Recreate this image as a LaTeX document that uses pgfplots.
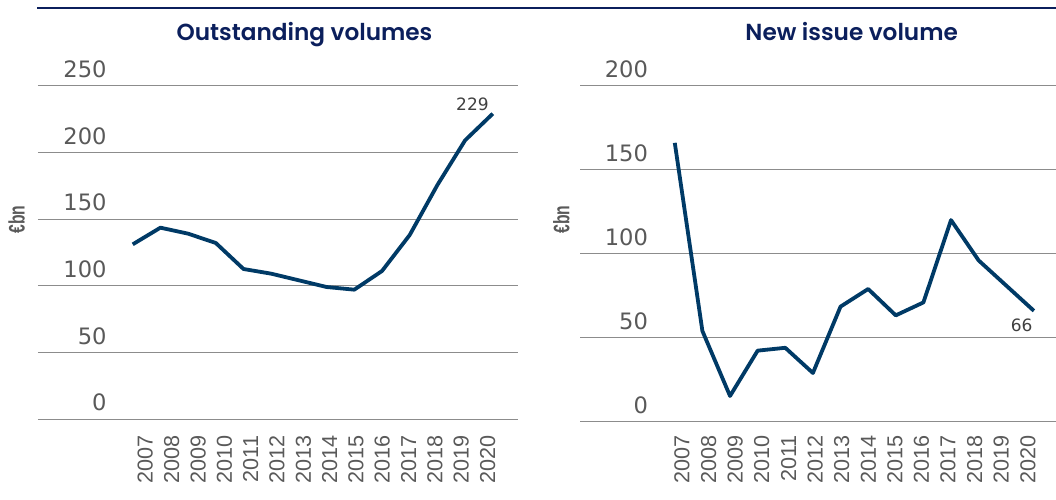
\documentclass[border=0pt]{standalone}
\usepackage{fontspec}
\setmainfont{DejaVu Sans}
\newfontfamily\yearfont{Liberation Sans}
\newfontfamily\titlefont{Poppins SemiBold}
\newfontfamily\labfont{Liberation Sans}
\usepackage{pgfplots}
\pgfplotsset{compat=1.18}

\definecolor{navy}{HTML}{0B1F5C}
\definecolor{lineblue}{HTML}{003A66}
\definecolor{tickgray}{HTML}{595959}
\definecolor{gridgray}{HTML}{8C8C8C}

\pgfplotsset{
  panel/.style={
    scale only axis,
    anchor=south west,
    axis line style={draw=none},
    major tick length=0pt,
    ymajorgrids,
    grid style={gridgray, line width=0.5pt},
    ymin=0, xmin=2003.58,
    /pgf/number format/assume math mode=true,
    yticklabel style={anchor=south east, inner sep=0pt, yshift=3.8pt,
      font=\fontsize{11.3}{12}\selectfont, text=tickgray},
    xticklabel style={rotate=90, anchor=east, inner sep=0pt,
      font=\yearfont\fontsize{10.8}{12}\selectfont, text=tickgray},
    xticklabels={2007,2008,2009,2010,2011,2012,2013,2014,2015,2016,2017,2018,2019,2020},
    clip=false,
  },
  series/.style={lineblue, line width=1.9pt, line join=round, no marks},
}

\begin{document}
\begin{tikzpicture}
\path[use as bounding box] (0,0) rectangle (528pt,-249.5pt);
\draw[navy, line width=1pt] (18.5pt,-4pt) -- (528pt,-4pt);

\node[anchor=base, text=navy, font=\titlefont\fontsize{11.6}{14}\selectfont] at (152.25pt,-20pt) {Outstanding volumes};
\node[anchor=base, text=navy, font=\titlefont\fontsize{11.6}{14}\selectfont] at (425.85pt,-20pt) {New issue volume};

\node[rotate=90, text=tickgray, font=\labfont\bfseries\fontsize{11.2}{12}\selectfont] at (8.35pt,-109.75pt) {\scalebox{0.7}[1]{€bn}};
\node[rotate=90, text=tickgray, font=\labfont\bfseries\fontsize{11.2}{12}\selectfont] at (280.65pt,-109.75pt) {\scalebox{0.7}[1]{€bn}};

% outstanding volumes
\begin{axis}[panel,
  at={(19pt,-209.5pt)},
  width=240pt, height=166.67pt,
  xmax=2020.91, ymax=250,
  ytick={0,50,100,150,200,250},
  yticklabel style={xshift=34.5pt},
  xtick={2007.45,2008.41,2009.36,2010.31,2011.26,2012.21,2013.16,2014.11,2015.06,2016.01,2016.96,2017.91,2018.86,2019.82},
  xticklabel shift=8.25pt,
]
\addplot[series] coordinates {
  (2007,131) (2008,143.5) (2009,139) (2010,132) (2011,112.5) (2012,109) (2013,104)
  (2014,99) (2015,97) (2016,111) (2017,138) (2018,175.5) (2019,209) (2020,229)};
\node[anchor=base east, inner sep=0pt, xshift=-1.85pt, yshift=1.65pt, text=black!75,
  font=\fontsize{8.5}{10}\selectfont] at (axis cs:2020,229) {229};
\end{axis}

% new issue volume
\begin{axis}[panel,
  at={(290.15pt,-210.85pt)},
  width=237.85pt, height=168pt,
  xmax=2020.8, ymax=200,
  ytick={0,50,100,150,200},
  yticklabel style={xshift=34pt},
  xtick={2007.26,2008.23,2009.19,2010.15,2011.12,2012.08,2013.04,2014.01,2014.97,2015.93,2016.89,2017.86,2018.82,2019.78},
  xticklabel shift=6.65pt,
]
\addplot[series] coordinates {
  (2007,166) (2008,54) (2009,15.3) (2010,42.3) (2011,44) (2012,29) (2013,68.5)
  (2014,79) (2015,63.3) (2016,71) (2017,120) (2018,96) (2019,81) (2020,66)};
\node[anchor=north east, inner sep=0pt, xshift=-0.5pt, yshift=-3.6pt, text=black!75,
  font=\fontsize{8.5}{10}\selectfont] at (axis cs:2020,66) {66};
\end{axis}
\end{tikzpicture}
\end{document}
